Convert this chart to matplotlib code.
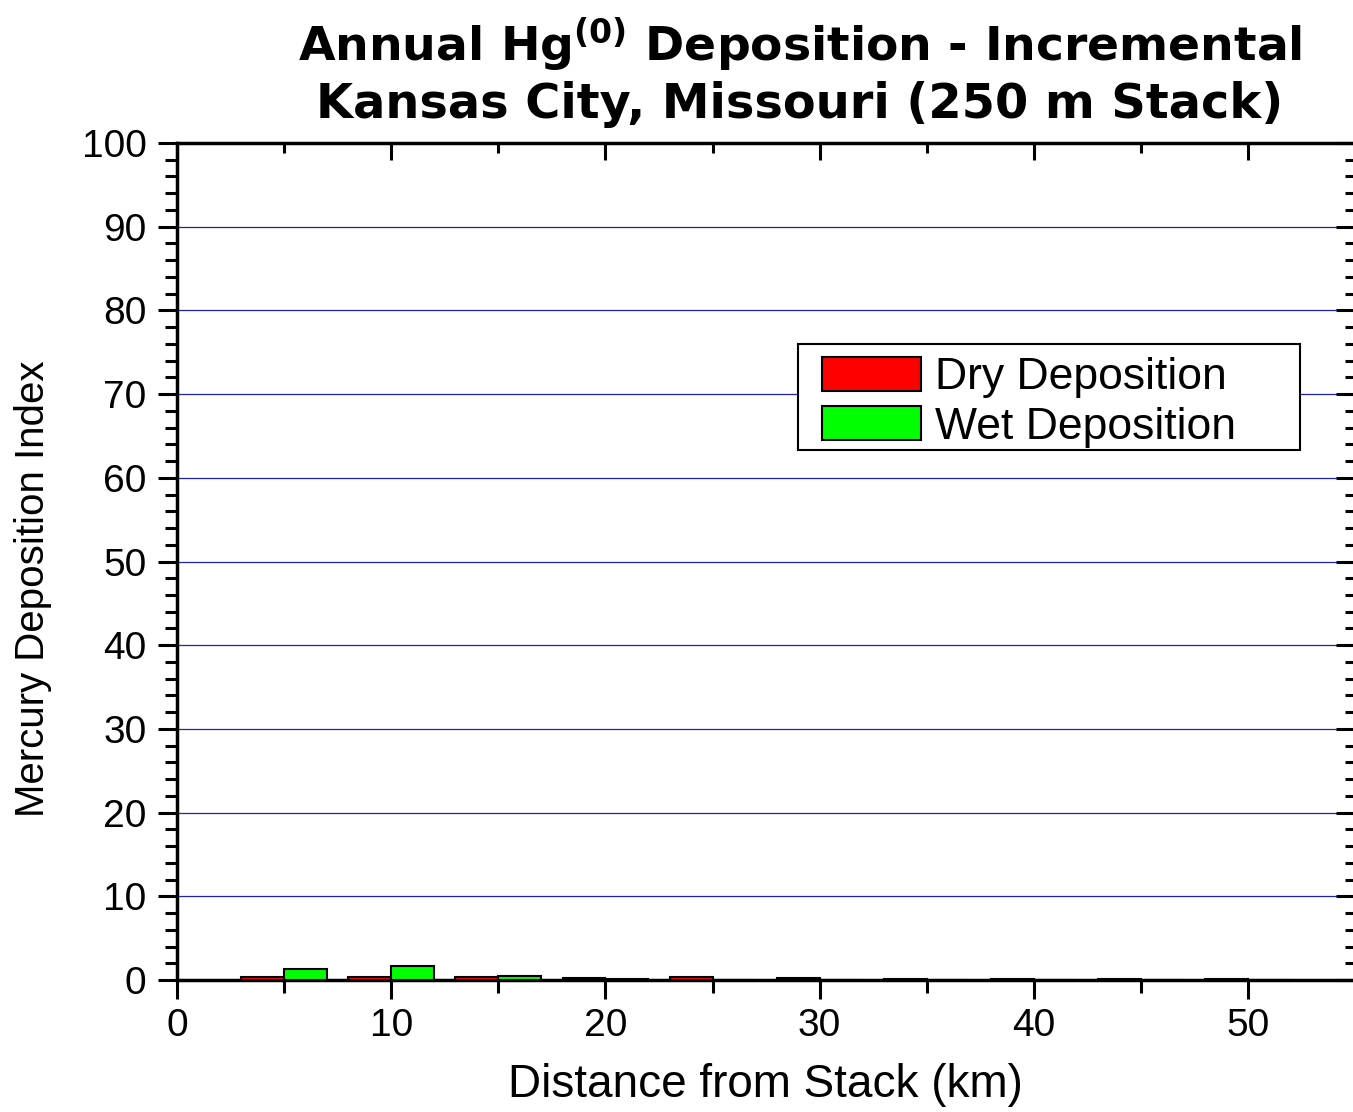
import numpy as np
import matplotlib
matplotlib.use("Agg")
import matplotlib.pyplot as plt
from matplotlib.patches import Rectangle

# ----- DATA -----
distance_km = [5, 10, 15, 20, 25, 30, 35, 40, 45, 50]
dry_dep = [0.40, 0.35, 0.35, 0.28, 0.35, 0.18, 0.15, 0.15, 0.10, 0.10]
wet_dep = [1.30, 1.65, 0.50, 0.10, 0.05, 0.05, 0.05, 0.04, 0.03, 0.03]
x_ticks = [0, 10, 20, 30, 40, 50]
y_ticks = [0, 10, 20, 30, 40, 50, 60, 70, 80, 90, 100]

plt.rcParams['font.family'] = ['Liberation Sans', 'DejaVu Sans']
plt.rcParams['mathtext.fontset'] = 'dejavusans'

fig = plt.figure(figsize=(13.53, 11.12), dpi=100)
ax = fig.add_axes([0.1308, 0.1187, 0.8692, 0.7527])

x = np.array(distance_km, dtype=float)
ax.bar(x - 1, dry_dep, width=2, color="#ff0000", edgecolor="black", linewidth=1.5,
       label="Dry Deposition", zorder=3)
ax.bar(x + 1, wet_dep, width=2, color="#00ff00", edgecolor="black", linewidth=1.5,
       label="Wet Deposition", zorder=3)

ax.set_xlim(0, 54.9)
ax.set_ylim(0, 100)
ax.set_xticks(x_ticks)
ax.set_xticks(np.arange(5, 55, 10), minor=True)
ax.set_yticks(y_ticks)
ax.set_yticks(np.arange(0, 101, 2), minor=True)
for y in y_ticks[1:-1]:
    ax.axhline(y, color="#2020b0", linewidth=0.9, zorder=1)

ax.tick_params(axis="both", which="major", labelsize=28, width=2.2, length=14,
               direction="out", top=False, right=False)
ax.tick_params(axis="both", which="minor", width=2.2, length=9,
               direction="out", top=False, right=False)
ax.tick_params(axis="x", which="major", pad=6)
ax.tick_params(axis="y", which="major", pad=8)
for side in ["left", "bottom", "top"]:
    ax.spines[side].set_linewidth(2.5)
ax.spines["right"].set_visible(False)

# inward ticks on the top and right sides
ax_top = ax.twiny()
ax_top.set_xlim(ax.get_xlim())
ax_top.set_xticks(x_ticks)
ax_top.set_xticks(np.arange(5, 55, 10), minor=True)
ax_top.tick_params(axis="x", which="major", direction="in", length=12, width=2.2, labeltop=False)
ax_top.tick_params(axis="x", which="minor", direction="in", length=7, width=2.2)
ax_right = ax.twinx()
ax_right.set_ylim(ax.get_ylim())
ax_right.set_yticks(y_ticks)
ax_right.set_yticks(np.arange(0, 101, 2), minor=True)
ax_right.tick_params(axis="y", which="major", direction="in", length=12, width=2.2, labelright=False)
ax_right.tick_params(axis="y", which="minor", direction="in", length=6, width=2.2)
for a in (ax_top, ax_right):
    for s in a.spines.values():
        s.set_visible(False)

ax.set_xlabel("Distance from Stack (km)", fontsize=33, labelpad=14)
ax.set_ylabel("Mercury Deposition Index", fontsize=29)
ax.yaxis.set_label_coords(-0.106, 0.468)

# legend box drawn separately so it can be sized like the original
box = Rectangle((0.5281, 0.6332), 0.4268, 0.1267, transform=ax.transAxes,
                facecolor="white", edgecolor="black", linewidth=1.5, zorder=4)
ax.add_patch(box)
leg = ax.legend(loc="upper left", bbox_to_anchor=(0.5485, 0.7445), borderaxespad=0,
                fontsize=32, frameon=False, handlelength=2.23, handleheight=0.8,
                handletextpad=0.31, labelspacing=0.18, borderpad=0)
leg.set_zorder(5)

fig.text(0.591, 0.960, r"Annual Hg$^{\mathbf{(0)}}$ Deposition - Incremental",
         ha="center", va="center", fontsize=34, fontweight="bold", family="DejaVu Sans")
fig.text(0.591, 0.906, "Kansas City, Missouri (250 m Stack)",
         ha="center", va="center", fontsize=34.5, fontweight="bold", family="DejaVu Sans")

fig.savefig("out.png", dpi=100)
